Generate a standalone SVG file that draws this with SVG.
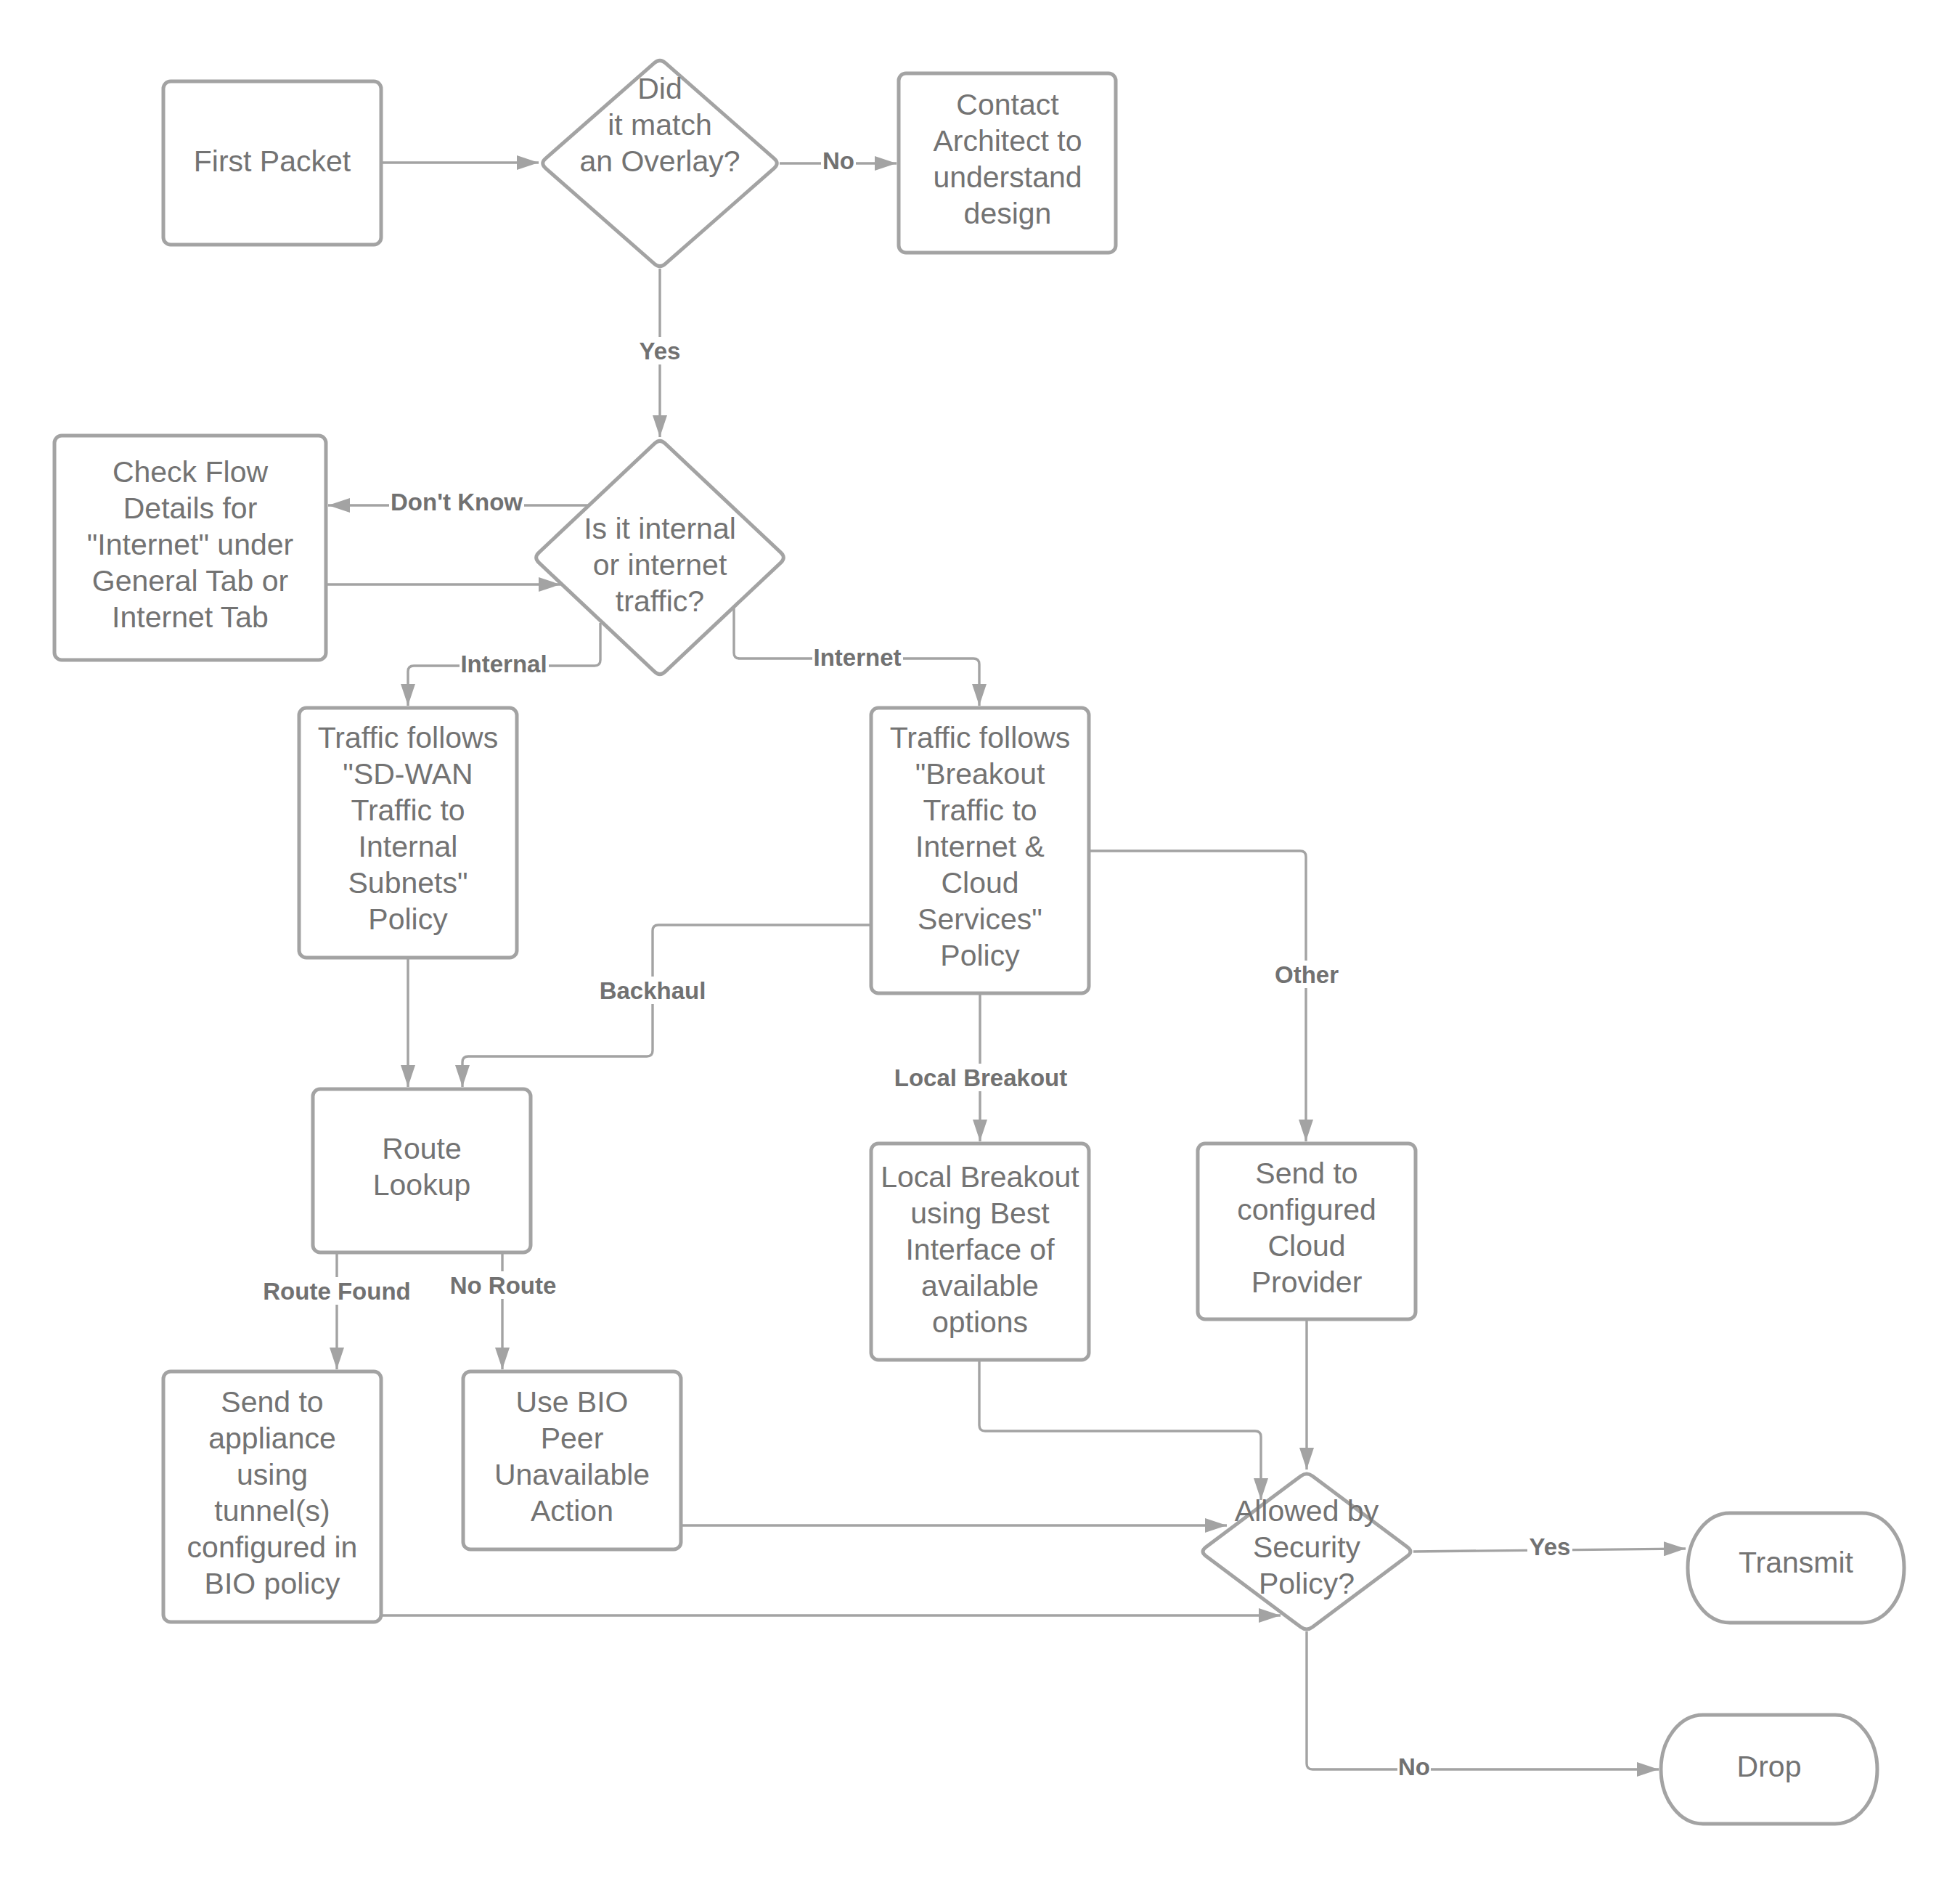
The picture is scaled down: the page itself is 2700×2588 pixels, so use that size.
<svg xmlns="http://www.w3.org/2000/svg" width="2700" height="2588" viewBox="0 0 2700 2588">
<style>
.n{fill:#ffffff;stroke:#a3a3a3;stroke-width:5;stroke-linejoin:round}
.t{font-family:"Liberation Sans",Arial,sans-serif;font-size:41px;fill:#737373;text-anchor:middle}
.c{fill:none;stroke:#a3a3a3;stroke-width:3.4}
.lb{fill:#ffffff;stroke:none}
.l{font-family:"Liberation Sans",Arial,sans-serif;font-size:33px;font-weight:bold;fill:#717171;text-anchor:middle}
</style>
<defs>
<marker id="ah" markerUnits="userSpaceOnUse" markerWidth="30" markerHeight="20" refX="30" refY="10" orient="auto">
<path d="M0,0 L30,10 L0,20 z" fill="#a3a3a3"/>
</marker>
</defs>
<rect width="2700" height="2588" fill="#ffffff"/>

<g id="connectors">
<path class="c" marker-end="url(#ah)" d="M525,224 L742,224"/>
<path class="c" marker-end="url(#ah)" d="M1074,225 L1235,225"/>
<path class="c" marker-end="url(#ah)" d="M909,370 L909,602"/>
<path class="c" marker-end="url(#ah)" d="M811,696 L452,696"/>
<path class="c" marker-end="url(#ah)" d="M449,805 L772,805"/>
<path class="c" marker-end="url(#ah)" d="M827,858 L827,909 Q827,917 819,917 L570,917 Q562,917 562,925 L562,972"/>
<path class="c" marker-end="url(#ah)" d="M1011,838 L1011,899 Q1011,907 1019,907 L1341,907 Q1349,907 1349,915 L1349,972"/>
<path class="c" marker-end="url(#ah)" d="M562,1319 L562,1497"/>
<path class="c" marker-end="url(#ah)" d="M1200,1274 L907,1274 Q899,1274 899,1282 L899,1447 Q899,1455 891,1455 L645,1455 Q637,1455 637,1463 L637,1497"/>
<path class="c" marker-end="url(#ah)" d="M1350,1368 L1350,1572"/>
<path class="c" marker-end="url(#ah)" d="M1500,1172 L1791,1172 Q1799,1172 1799,1180 L1799,1572"/>
<path class="c" marker-end="url(#ah)" d="M464,1725 L464,1886"/>
<path class="c" marker-end="url(#ah)" d="M692,1725 L692,1886"/>
<path class="c" marker-end="url(#ah)" d="M1349,1873 L1349,1963 Q1349,1971 1357,1971 L1729,1971 Q1737,1971 1737,1979 L1737,2066"/>
<path class="c" marker-end="url(#ah)" d="M1800,1817 L1800,2024"/>
<path class="c" marker-end="url(#ah)" d="M938,2101 L1690,2101"/>
<path class="c" marker-end="url(#ah)" d="M525,2225 L1764,2225"/>
<path class="c" marker-end="url(#ah)" d="M1947,2137 L2322,2133"/>
<path class="c" marker-end="url(#ah)" d="M1800,2247 L1800,2429 Q1800,2437 1808,2437 L2285,2437"/>

<rect class="lb" x="1131" y="203" width="48" height="36"/>
<text class="l" x="1155" y="233">No</text>
<rect class="lb" x="878" y="464" width="62" height="38"/>
<text class="l" x="909" y="495">Yes</text>
<rect class="lb" x="536" y="673" width="186" height="36"/>
<text class="l" x="629" y="703">Don't Know</text>
<rect class="lb" x="633" y="896" width="123" height="36"/>
<text class="l" x="694" y="926">Internal</text>
<rect class="lb" x="1119" y="887" width="125" height="36"/>
<text class="l" x="1181" y="917">Internet</text>
<rect class="lb" x="824" y="1345" width="151" height="38"/>
<text class="l" x="899" y="1376">Backhaul</text>
<rect class="lb" x="1230" y="1465" width="242" height="38"/>
<text class="l" x="1351" y="1496">Local Breakout</text>
<rect class="lb" x="1754" y="1323" width="92" height="38"/>
<text class="l" x="1800" y="1354">Other</text>
<rect class="lb" x="361" y="1759" width="207" height="38"/>
<text class="l" x="464" y="1790">Route Found</text>
<rect class="lb" x="618" y="1751" width="151" height="38"/>
<text class="l" x="693" y="1782">No Route</text>
<rect class="lb" x="2104" y="2115" width="62" height="34"/>
<text class="l" x="2135" y="2142">Yes</text>
<rect class="lb" x="1925" y="2418" width="46" height="34"/>
<text class="l" x="1948" y="2445">No</text>
</g>

<g id="first-packet">
<rect class="n" x="225" y="112" width="300" height="225" rx="10"/>
<text class="t" x="375" y="236">First Packet</text>
</g>

<g id="overlay-decision">
<path class="n" d="M916.5,86.6 L1066.5,218.4 Q1074,225 1066.5,231.6 L916.5,363.4 Q909,370 901.5,363.4 L751.5,231.6 Q744,225 751.5,218.4 L901.5,86.6 Q909,80 916.5,86.6 Z"/>
<text class="t" x="909" y="136">Did</text>
<text class="t" x="909" y="186">it match</text>
<text class="t" x="909" y="236">an Overlay?</text>
</g>

<g id="contact-architect">
<rect class="n" x="1238" y="101" width="299" height="247" rx="10"/>
<text class="t" x="1388" y="158">Contact</text>
<text class="t" x="1388" y="208">Architect to</text>
<text class="t" x="1388" y="258">understand</text>
<text class="t" x="1388" y="308">design</text>
</g>

<g id="traffic-decision">
<path class="n" d="M916.3,610.9 L1075.7,761.1 Q1083,768 1075.7,774.9 L916.3,925.1 Q909,932 901.7,925.1 L742.3,774.9 Q735,768 742.3,761.1 L901.7,610.9 Q909,604 916.3,610.9 Z"/>
<text class="t" x="909" y="742">Is it internal</text>
<text class="t" x="909" y="792">or internet</text>
<text class="t" x="909" y="842">traffic?</text>
</g>

<g id="check-flow">
<rect class="n" x="75" y="600" width="374" height="309" rx="10"/>
<text class="t" x="262" y="664">Check Flow</text>
<text class="t" x="262" y="714">Details for</text>
<text class="t" x="262" y="764">"Internet" under</text>
<text class="t" x="262" y="814">General Tab or</text>
<text class="t" x="262" y="864">Internet Tab</text>
</g>

<g id="sdwan-policy">
<rect class="n" x="412" y="975" width="300" height="344" rx="10"/>
<text class="t" x="562" y="1030">Traffic follows</text>
<text class="t" x="562" y="1080">"SD-WAN</text>
<text class="t" x="562" y="1130">Traffic to</text>
<text class="t" x="562" y="1180">Internal</text>
<text class="t" x="562" y="1230">Subnets"</text>
<text class="t" x="562" y="1280">Policy</text>
</g>

<g id="breakout-policy">
<rect class="n" x="1200" y="975" width="300" height="393" rx="10"/>
<text class="t" x="1350" y="1030">Traffic follows</text>
<text class="t" x="1350" y="1080">"Breakout</text>
<text class="t" x="1350" y="1130">Traffic to</text>
<text class="t" x="1350" y="1180">Internet &amp;</text>
<text class="t" x="1350" y="1230">Cloud</text>
<text class="t" x="1350" y="1280">Services"</text>
<text class="t" x="1350" y="1330">Policy</text>
</g>

<g id="route-lookup">
<rect class="n" x="431" y="1500" width="300" height="225" rx="10"/>
<text class="t" x="581" y="1596">Route</text>
<text class="t" x="581" y="1646">Lookup</text>
</g>

<g id="local-breakout">
<rect class="n" x="1200" y="1575" width="300" height="298" rx="10"/>
<text class="t" x="1350" y="1635">Local Breakout</text>
<text class="t" x="1350" y="1685">using Best</text>
<text class="t" x="1350" y="1735">Interface of</text>
<text class="t" x="1350" y="1785">available</text>
<text class="t" x="1350" y="1835">options</text>
</g>

<g id="cloud-provider">
<rect class="n" x="1650" y="1575" width="300" height="242" rx="10"/>
<text class="t" x="1800" y="1630">Send to</text>
<text class="t" x="1800" y="1680">configured</text>
<text class="t" x="1800" y="1730">Cloud</text>
<text class="t" x="1800" y="1780">Provider</text>
</g>

<g id="send-appliance">
<rect class="n" x="225" y="1889" width="300" height="345" rx="10"/>
<text class="t" x="375" y="1945">Send to</text>
<text class="t" x="375" y="1995">appliance</text>
<text class="t" x="375" y="2045">using</text>
<text class="t" x="375" y="2095">tunnel(s)</text>
<text class="t" x="375" y="2145">configured in</text>
<text class="t" x="375" y="2195">BIO policy</text>
</g>

<g id="use-bio">
<rect class="n" x="638" y="1889" width="300" height="245" rx="10"/>
<text class="t" x="788" y="1945">Use BIO</text>
<text class="t" x="788" y="1995">Peer</text>
<text class="t" x="788" y="2045">Unavailable</text>
<text class="t" x="788" y="2095">Action</text>
</g>

<g id="security-decision">
<path class="n" d="M1808,2033 L1939,2131 Q1947,2137 1939,2143 L1808,2241 Q1800,2247 1792,2241 L1661,2143 Q1653,2137 1661,2131 L1792,2033 Q1800,2027 1808,2033 Z"/>
<text class="t" x="1800" y="2095">Allowed by</text>
<text class="t" x="1800" y="2145">Security</text>
<text class="t" x="1800" y="2195">Policy?</text>
</g>

<g id="transmit">
<rect class="n" x="2325" y="2084" width="298" height="151" rx="58" ry="75"/>
<text class="t" x="2474" y="2166">Transmit</text>
</g>

<g id="drop">
<rect class="n" x="2288" y="2362" width="298" height="150" rx="58" ry="75"/>
<text class="t" x="2437" y="2447">Drop</text>
</g>
</svg>
